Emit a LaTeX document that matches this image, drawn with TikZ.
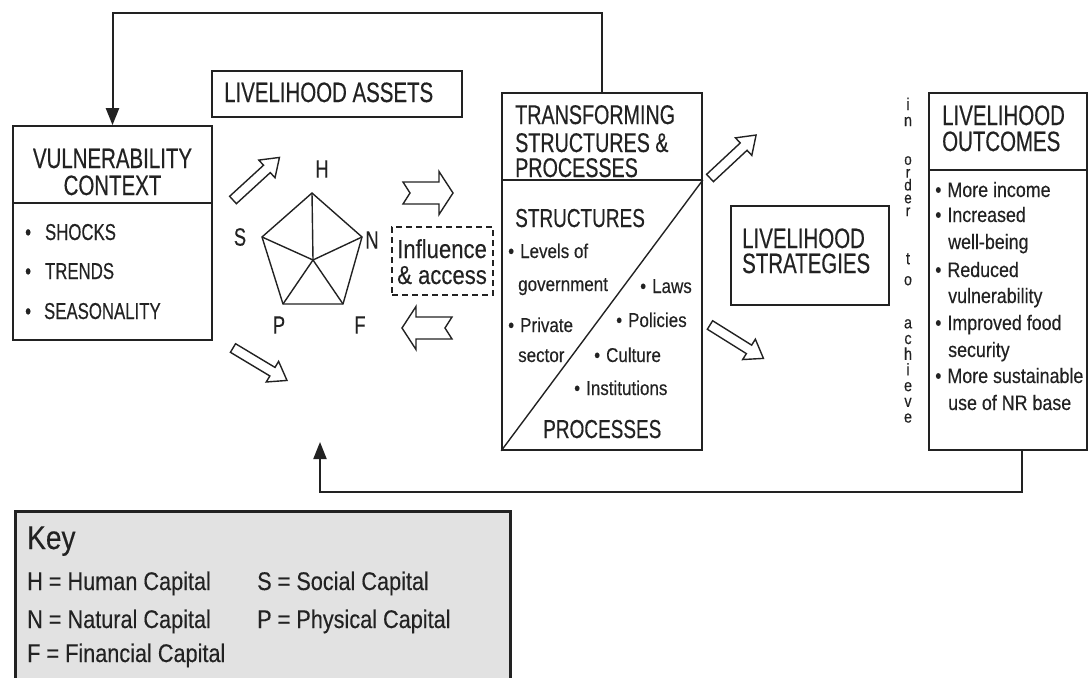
\documentclass[tikz,border=0pt]{standalone}
\usepackage{fontspec}
\newfontfamily\capsf[FakeStretch=0.73,FakeBold=0.4]{Liberation Sans}
\newfontfamily\lowf[FakeStretch=0.85,FakeBold=0.3]{Liberation Sans}
\usetikzlibrary{arrows.meta}
\definecolor{ink}{HTML}{222222}
\definecolor{keyfill}{HTML}{E2E2E2}
\begin{document}
\begin{tikzpicture}[x=1pt,y=-1pt,
  box/.style={draw=ink, line width=1.6pt, rectangle, inner sep=0pt},
  ttl/.style={font=\capsf\fontsize{28}{30}\selectfont, text=ink, inner sep=0pt, anchor=base west},
  sttl/.style={font=\capsf\fontsize{26}{28}\selectfont, text=ink, inner sep=0pt, anchor=base west},
  capb/.style={font=\capsf\fontsize{23}{25}\selectfont, text=ink, inner sep=0pt, anchor=base west},
  lbl/.style={font=\capsf\fontsize{25}{27}\selectfont, text=ink, inner sep=0pt, anchor=center},
  small/.style={font=\lowf\fontsize{20}{22}\selectfont, text=ink, inner sep=0pt, anchor=base west},
  outt/.style={font=\lowf\fontsize{21}{23}\selectfont, text=ink, inner sep=0pt, anchor=base west},
  infl/.style={font=\lowf\fontsize{26}{28}\selectfont, text=ink, inner sep=0pt, anchor=base west},
  keyt/.style={font=\lowf\fontsize{25.5}{27}\selectfont, text=ink, inner sep=0pt, anchor=base west},
  vt/.style={text=ink, inner sep=0pt, anchor=north, align=center},
  fb/.style={draw=ink, line width=2pt, -{Triangle[length=17pt,width=13pt]}},
  thin/.style={draw=ink, line width=1.4pt},
  hollow/.style={draw=ink, line width=1.4pt, fill=white, line join=miter},
  pics/darrow/.style={code={\draw[hollow] (0,-5) -- (46,-5) -- (46,-12) -- (63,0) -- (46,12) -- (46,5) -- (0,5) -- cycle;}},
  pics/narrow/.style={code={\draw[hollow] (0,-11) -- (36,-11) -- (36,-21.5) -- (50,0) -- (36,21.5) -- (36,11) -- (0,11) -- (7,0) -- cycle;}}
]
\useasboundingbox (0,0) rectangle (1089,677);

% ---------- boxes ----------
\node[box, minimum width=199pt, minimum height=214pt] (vul) at (112.5,233) {};
\node[box, minimum width=250pt, minimum height=46pt] (assets) at (337,94) {};
\node[box, dashed, dash pattern=on 6pt off 4pt, minimum width=101pt, minimum height=68pt] (inf) at (442.5,261) {};
\node[box, minimum width=200pt, minimum height=357pt] (tsp) at (602,271.5) {};
\node[box, minimum width=158pt, minimum height=99pt] (strat) at (810,255.5) {};
\node[box, minimum width=158pt, minimum height=357pt] (out) at (1008,271.5) {};

% dividers
\coordinate (vd) at (0,203);
\coordinate (td) at (0,180);
\coordinate (od) at (0,170);
\draw[thin, line width=1.6pt] (vul.west |- vd) -- (vul.east |- vd);
\draw[thin, line width=1.6pt] (tsp.west |- td) -- (tsp.east |- td);
\draw[thin, line width=1.6pt] (out.west |- od) -- (out.east |- od);
\draw[thin] (tsp.south west) -- (tsp.east |- td);

% ---------- feedback arrows ----------
\coordinate (topy) at (0,13);
\draw[fb] (tsp.north) -- (tsp.north |- topy) -- (vul.north |- topy) -- (vul.north);
\coordinate (br) at (1022,492);
\coordinate (bl) at (320,492);
\coordinate (btip) at (320,442);
\draw[fb] (out.south -| br) -- (br) -- (bl) -- (btip);

% ---------- vulnerability context ----------
\node[ttl, anchor=base] (v1) at (112.5,168) {VULNERABILITY};
\node[ttl, anchor=base] (v2) at (112.5,195) {CONTEXT};
\node[capb] (v3) at (25,240) {•\hspace{14pt}SHOCKS};
\node[capb] (v4) at (25,279) {•\hspace{14pt}TRENDS};
\node[capb] (v5) at (25,319) {•\hspace{13pt}SEASONALITY};

% ---------- livelihood assets ----------
\node[ttl] (a1) at (224,102) {LIVELIHOOD ASSETS};
\coordinate (pH) at (312,193);
\coordinate (pN) at (362,237);
\coordinate (pF) at (343,304);
\coordinate (pP) at (283,304);
\coordinate (pS) at (262,237);
\coordinate (pC) at (313,260);
\draw[thin, line join=miter] (pH) -- (pN) -- (pF) -- (pP) -- (pS) -- cycle;
\foreach \v in {pH,pN,pF,pP,pS} \draw[thin] (pC) -- (\v);
\node[lbl] (lH) at (322,169) {H};
\node[lbl] (lS) at (240,237) {S};
\node[lbl] (lN) at (372,240) {N};
\node[lbl] (lP) at (279,325) {P};
\node[lbl] (lF) at (360,325) {F};

% hollow arrows
\pic[rotate=42.5] at (233,200) {darrow};
\pic[rotate=-31] at (233,348) {darrow};
\pic[rotate=43] at (710,178) {darrow};
\pic[rotate=-32] at (710,325) {darrow};
\pic at (403,193) {narrow};
\pic[rotate=180] at (452,328) {narrow};

% influence & access
\node[infl] (i1) at (397,258) {Influence};
\node[infl] (i2) at (397,284) {\& access};

% ---------- transforming structures ----------
\node[sttl, font=\capsf\fontsize{27}{29}\selectfont] (t1) at (515,124) {TRANSFORMING};
\node[sttl, font=\capsf\fontsize{27}{29}\selectfont] (t2) at (515,152) {STRUCTURES \&};
\node[sttl, font=\capsf\fontsize{27}{29}\selectfont] (t3) at (515,177) {PROCESSES};
\node[sttl] (t4) at (515,227) {STRUCTURES};
\node[sttl] (t5) at (543,438) {PROCESSES};
\node[small] (s1) at (508,258) {•\hspace{6pt}Levels of};
\node[small] (s2) at (518,291) {government};
\node[small] (s3) at (508,332) {•\hspace{6pt}Private};
\node[small] (s4) at (518,362) {sector};
\node[small] (s5) at (640,293) {•\hspace{6pt}Laws};
\node[small] (s6) at (616,327) {•\hspace{6pt}Policies};
\node[small] (s7) at (594,362) {•\hspace{6pt}Culture};
\node[small] (s8) at (574,395) {•\hspace{6pt}Institutions};

% ---------- livelihood strategies ----------
\node[ttl] (ls1) at (742,248) {LIVELIHOOD};
\node[ttl] (ls2) at (742,273) {STRATEGIES};

% in order to achieve (letters stacked)
\node[vt, font=\lowf\fontsize{17}{16}\selectfont] (w1) at (908,97.5) {i\\n};
\node[vt, font=\lowf\fontsize{16}{12.8}\selectfont] (w2) at (908,156) {o\\r\\d\\e\\r};
\node[vt, font=\lowf\fontsize{17}{21}\selectfont] (w3) at (908,253) {t\\o};
\node[vt, font=\lowf\fontsize{17}{15.7}\selectfont] (w4) at (908,319) {a\\c\\h\\i\\e\\v\\e};

% ---------- livelihood outcomes ----------
\node[ttl] (o1) at (942,125) {LIVELIHOOD};
\node[ttl] (o2) at (942,151) {OUTCOMES};
\node[outt] (o3) at (935,197) {•\hspace{6pt}More income};
\node[outt] (o4) at (935,222) {•\hspace{6pt}Increased};
\node[outt] (o5) at (948,249) {well-being};
\node[outt] (o6) at (935,277) {•\hspace{6pt}Reduced};
\node[outt] (o7) at (948,303) {vulnerability};
\node[outt] (o8) at (935,330) {•\hspace{6pt}Improved food};
\node[outt] (o9) at (948,357) {security};
\node[outt] (o10) at (935,383) {•\hspace{6pt}More sustainable};
\node[outt] (o11) at (948,410) {use of NR base};

% ---------- key ----------
\node[rectangle, fill=keyfill, draw=ink, line width=3pt, minimum width=495pt, minimum height=180pt, inner sep=0pt] (key) at (262.5,601) {};
\node[keyt, font=\lowf\fontsize{33}{35}\selectfont] (k0) at (27,549) {Key};
\node[keyt] (k1) at (27,590) {H = Human Capital};
\node[keyt] (k2) at (27,628) {N = Natural Capital};
\node[keyt] (k3) at (27,662) {F = Financial Capital};
\node[keyt] (k4) at (257,590) {S = Social Capital};
\node[keyt] (k5) at (257,628) {P = Physical Capital};
\end{tikzpicture}
\end{document}
